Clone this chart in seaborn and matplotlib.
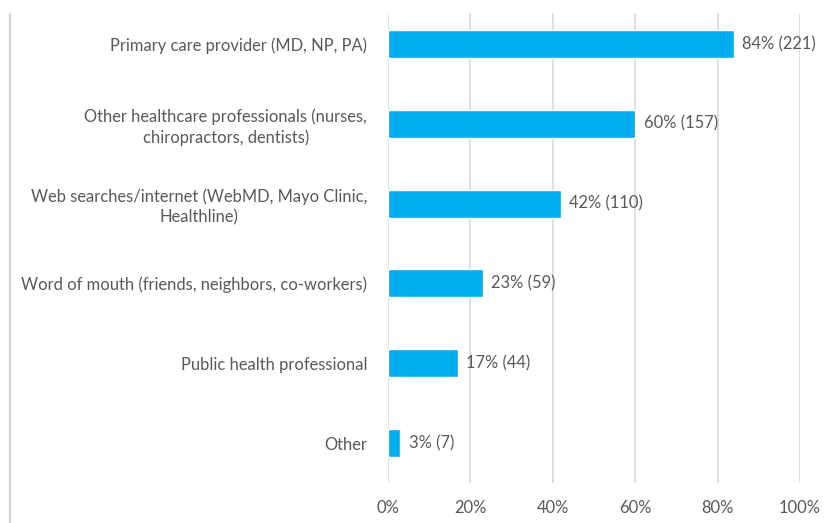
import matplotlib
matplotlib.use("Agg")
import matplotlib.pyplot as plt
import seaborn as sns
import pandas as pd
from matplotlib.lines import Line2D

sources = [
    "Primary care provider (MD, NP, PA)",
    "Other healthcare professionals (nurses,\nchiropractors, dentists)",
    "Web searches/internet (WebMD, Mayo Clinic,\nHealthline)",
    "Word of mouth (friends, neighbors, co-workers)",
    "Public health professional",
    "Other",
]
percents = [84, 60, 42, 23, 17, 3]
counts = [221, 157, 110, 59, 44, 7]
xticks = [0, 20, 40, 60, 80, 100]

df = pd.DataFrame({"source": sources, "percent": percents, "count": counts})

sns.set_theme(style="white")
plt.rcParams["font.family"] = ["Lato", "DejaVu Sans"]

text_color = "#595959"
bar_color = "#00AEEF"
grid_color = "#D9D9D9"
fs = 11.9

W, H = 833, 523
fig = plt.figure(figsize=(W / 100, H / 100), dpi=100)
ax = fig.add_axes([388 / W, 1 - 483 / H, 412 / W, 479 / H])

sns.barplot(data=df, y="source", x="percent", orient="h", color=bar_color,
            width=0.35, saturation=1, ax=ax, zorder=3)

ax.set_xlim(0, 100)
ax.set_ylim(len(sources) - 0.5, -0.5)
ax.set_xticks(xticks)
ax.set_xticklabels([f"{t}%" for t in xticks], color=text_color, fontsize=fs)
ax.set_ylabel("")
ax.set_xlabel("")
ax.tick_params(axis="x", length=0, pad=12)
ax.tick_params(axis="y", length=0, pad=15)
for lbl in ax.get_yticklabels():
    lbl.set_color(text_color)
    lbl.set_fontsize(fs)
    lbl.set_multialignment("center")
    lbl.set_linespacing(1.3)

# vertical gridlines stop a little below the top of the category band
for t in xticks:
    ax.axvline(t, ymin=0, ymax=(483 - 14) / 479, color=grid_color,
               linewidth=1.2, zorder=0)
for side in ["top", "right", "bottom", "left"]:
    ax.spines[side].set_visible(False)

for i, (p, c) in enumerate(zip(percents, counts)):
    ax.annotate(f"{p}% ({c})", xy=(p, i), xytext=(6, 0),
                textcoords="offset points", va="center", ha="left",
                color=text_color, fontsize=fs)

# outer chart frame edge on the left
fig.add_artist(Line2D([10 / W, 10 / W], [0, 1 - 14 / H],
                      transform=fig.transFigure, color="#D0D0D0", linewidth=1.5))

fig.savefig("out.png", dpi=100, facecolor="white")
